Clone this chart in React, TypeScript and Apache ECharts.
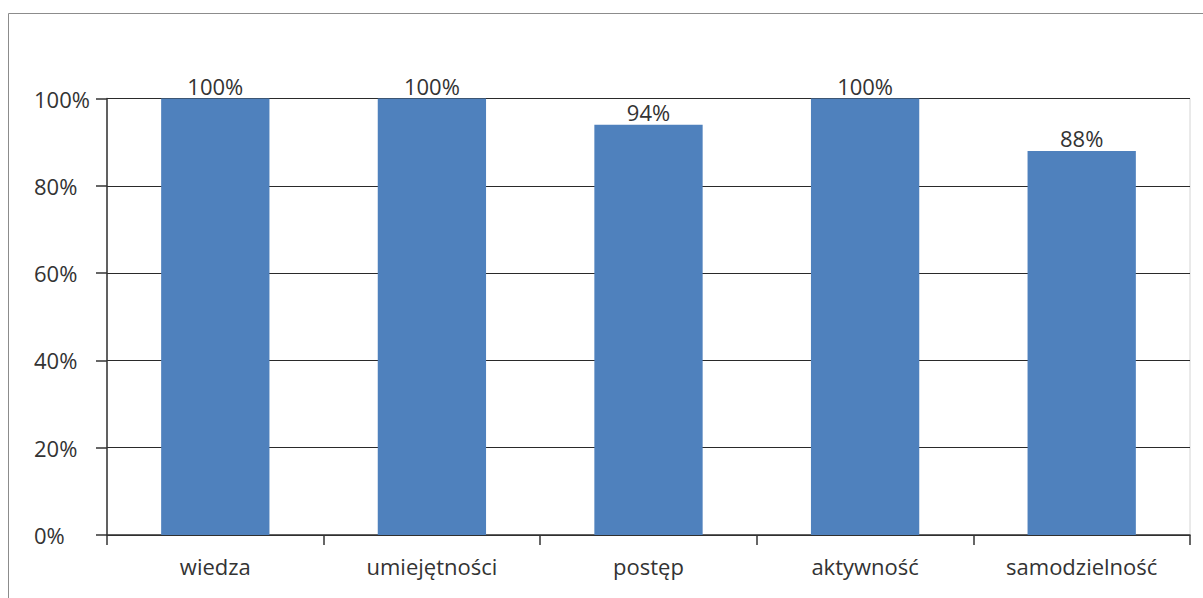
import React, { useEffect, useRef } from "react";
import * as echarts from "echarts";

const categories = ["wiedza", "umiejętności", "postęp", "aktywność", "samodzielność"];
const values = [100, 100, 94, 100, 88];
const yTicks = { min: 0, max: 100, interval: 20 };

const FONT = "'Open Sans', 'DejaVu Sans', sans-serif";
const TEXT = "#333333";

export default function App() {
  const ref = useRef<HTMLDivElement>(null);
  useEffect(() => {
    if (!ref.current) return;
    const chart = echarts.init(ref.current, null, { renderer: "svg" });
    chart.setOption({
      animation: false,
      backgroundColor: "#ffffff",
      graphic: [
        {
          type: "rect",
          shape: { x: 8.5, y: 13.5, width: 1400, height: 800 },
          style: { fill: "none", stroke: "#8c8c8c", lineWidth: 1 },
          silent: true,
        },
      ],
      grid: {
        left: 107,
        right: 13,
        top: 98.5,
        bottom: 63,
        show: true,
        borderColor: "#d4d4d4",
        borderWidth: 1,
        containLabel: false,
      },
      xAxis: {
        type: "category",
        data: categories,
        axisLine: { show: true, lineStyle: { color: "#333", width: 1.5 } },
        axisTick: { show: true, length: 10, lineStyle: { color: "#333", width: 1.5 } },
        axisLabel: {
          margin: 20,
          fontFamily: FONT,
          fontSize: 22,
          color: TEXT,
        },
        splitLine: { show: false },
      },
      yAxis: {
        type: "value",
        min: yTicks.min,
        max: yTicks.max,
        interval: yTicks.interval,
        axisLine: { show: true, lineStyle: { color: "#333", width: 1.5 } },
        axisTick: { show: true, length: 11, lineStyle: { color: "#333", width: 1.5 } },
        axisLabel: {
          formatter: "{value}%",
          align: "left",
          margin: 73,
          fontFamily: FONT,
          fontSize: 22,
          color: TEXT,
        },
        splitLine: { show: true, lineStyle: { color: "#2a2a2a", width: 1 } },
      },
      series: [
        {
          type: "bar",
          data: values,
          barWidth: "50%",
          itemStyle: { color: "#4f81bd" },
          label: {
            show: true,
            position: "top",
            distance: 2,
            formatter: "{c}%",
            fontFamily: FONT,
            fontSize: 22,
            color: TEXT,
          },
        },
      ],
    });
    return () => chart.dispose();
  }, []);
  return (
    <div
      ref={ref}
      style={{ position: "absolute", left: 0, top: 0, width: 1203, height: 598 }}
    />
  );
}
